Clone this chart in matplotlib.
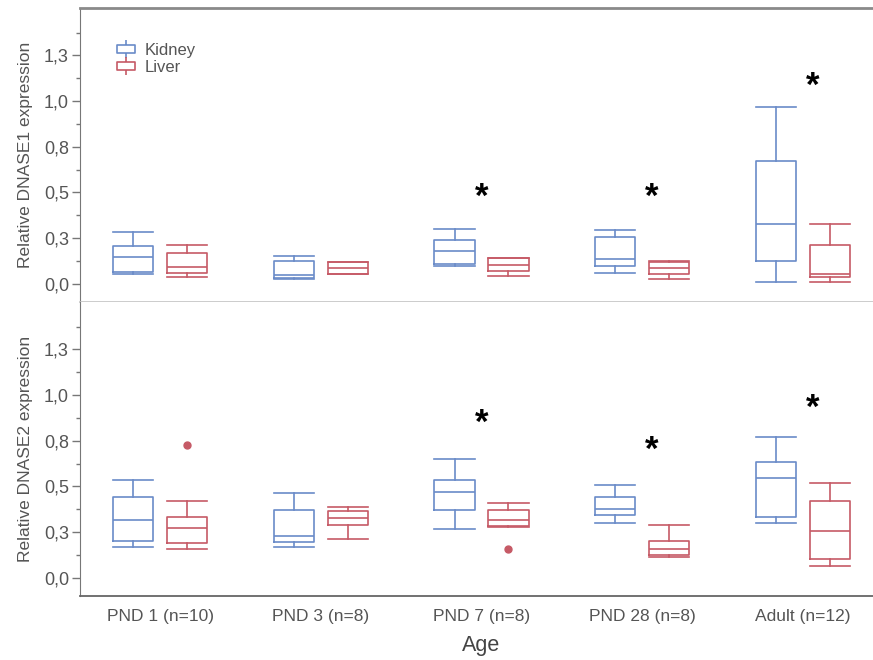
import matplotlib
matplotlib.use("Agg")
import matplotlib.pyplot as plt
from matplotlib.lines import Line2D
from matplotlib.path import Path
from matplotlib.ticker import FixedLocator, FixedFormatter
from matplotlib import transforms

plt.rcParams['font.family'] = ['Liberation Sans', 'DejaVu Sans']

groups = ["PND 1 (n=10)", "PND 3 (n=8)", "PND 7 (n=8)", "PND 28 (n=8)", "Adult (n=12)"]

# DNASE1: whislo, q1, med, q3, whishi
dnase1_kidney = [
    [0.052, 0.067, 0.144, 0.206, 0.285],
    [0.028, 0.031, 0.049, 0.123, 0.152],
    [0.099, 0.108, 0.177, 0.240, 0.301],
    [0.060, 0.096, 0.134, 0.258, 0.294],
    [0.007, 0.123, 0.325, 0.671, 0.970],
]
dnase1_liver = [
    [0.036, 0.060, 0.090, 0.169, 0.213],
    [0.052, 0.052, 0.085, 0.117, 0.120],
    [0.045, 0.072, 0.104, 0.139, 0.142],
    [0.027, 0.052, 0.085, 0.117, 0.124],
    [0.007, 0.036, 0.052, 0.213, 0.325],
]
dnase1_kidney_out = [[], [], [], [], []]
dnase1_liver_out = [[], [], [], [], []]
dnase1_star_x = [2.0, 3.06, 4.06]
dnase1_star_y = [0.505, 0.505, 1.115]

# DNASE2
dnase2_kidney = [
    [0.170, 0.203, 0.317, 0.442, 0.533],
    [0.167, 0.198, 0.229, 0.372, 0.464],
    [0.266, 0.372, 0.469, 0.537, 0.650],
    [0.299, 0.343, 0.377, 0.443, 0.508],
    [0.299, 0.335, 0.546, 0.632, 0.769],
]
dnase2_liver = [
    [0.156, 0.192, 0.271, 0.335, 0.418],
    [0.211, 0.290, 0.326, 0.368, 0.390],
    [0.280, 0.282, 0.317, 0.372, 0.409],
    [0.112, 0.125, 0.159, 0.203, 0.290],
    [0.066, 0.101, 0.257, 0.418, 0.519],
]
dnase2_kidney_out = [[], [], [], [], []]
dnase2_liver_out = [[0.725], [], [0.159], [], []]
dnase2_star_x = [2.0, 3.06, 4.06]
dnase2_star_y = [0.876, 0.729, 0.958]

yticks = [0.0, 0.25, 0.5, 0.75, 1.0, 1.25]
ytick_labels = ["0,0", "0,3", "0,5", "0,8", "1,0", "1,3"]
yminor = [0.125, 0.375, 0.625, 0.875, 1.125, 1.375]

blue = "#6a8bc8"
red = "#c65a66"
grey = "#555555"

# small boxplot icon for the legend
box_icon = Path(
    [(-1, -0.42), (1, -0.42), (1, 0.42), (-1, 0.42), (-1, -0.42),
     (0, 0.42), (0, 1.0), (0, -0.42), (0, -1.0)],
    [Path.MOVETO, Path.LINETO, Path.LINETO, Path.LINETO, Path.CLOSEPOLY,
     Path.MOVETO, Path.LINETO, Path.MOVETO, Path.LINETO])


def stats(rows, outs):
    res = []
    for r, o in zip(rows, outs):
        res.append(dict(whislo=r[0], q1=r[1], med=r[2], q3=r[3], whishi=r[4], fliers=o))
    return res


def draw(ax, kid, liv, kid_out, liv_out, star_x, star_y, ylabel):
    pos = list(range(len(groups)))
    for data, outs, col, off in [(kid, kid_out, blue, -0.168), (liv, liv_out, red, 0.168)]:
        lp = dict(color=col, linewidth=1.2)
        ax.bxp(stats(data, outs), positions=[p + off for p in pos], widths=0.25,
               showfliers=True, boxprops=lp, medianprops=lp, whiskerprops=lp,
               capprops=lp, capwidths=0.25,
               flierprops=dict(marker='o', markersize=5, markerfacecolor=red,
                               markeredgecolor=red))
    shift = transforms.offset_copy(ax.transData, fig=ax.figure, y=-6, units='dots')
    for x, y in zip(star_x, star_y):
        ax.text(x, y, "*", ha="center", va="center", fontsize=25,
                fontweight="bold", color="black", transform=shift)
    ax.set_xlim(-0.5, 4.5)
    ax.set_ylim(-0.1, 1.51)
    ax.yaxis.set_major_locator(FixedLocator(yticks))
    ax.yaxis.set_major_formatter(FixedFormatter(ytick_labels))
    ax.yaxis.set_minor_locator(FixedLocator(yminor))
    ax.tick_params(axis="y", which="major", length=6, width=1, color="#777777",
                   labelsize=13, labelcolor=grey, pad=2)
    ax.tick_params(axis="y", which="minor", length=3, width=1, color="#777777")
    ax.set_ylabel(ylabel, fontsize=12.5, color=grey, labelpad=8)
    ax.spines["right"].set_visible(False)
    ax.spines["left"].set_color("#777777")


fig = plt.figure(figsize=(8.73, 6.6), dpi=100)
ax1 = fig.add_axes([80 / 873, 1 - 302 / 660, 803 / 873, 294 / 660])
ax2 = fig.add_axes([80 / 873, 1 - 596 / 660, 803 / 873, 294 / 660])

draw(ax1, dnase1_kidney, dnase1_liver, dnase1_kidney_out, dnase1_liver_out,
     dnase1_star_x, dnase1_star_y, "Relative DNASE1 expression")
draw(ax2, dnase2_kidney, dnase2_liver, dnase2_kidney_out, dnase2_liver_out,
     dnase2_star_x, dnase2_star_y, "Relative DNASE2 expression")

ax1.set_xticks([])
ax1.spines["top"].set_color("#8a8a8a")
ax1.spines["top"].set_linewidth(2)
ax1.spines["bottom"].set_color("#c4c4c4")
ax1.spines["bottom"].set_linewidth(1.2)
ax2.spines["top"].set_visible(False)
ax2.spines["bottom"].set_color("#666666")
ax2.spines["bottom"].set_linewidth(1.3)
ax2.set_xticks(range(len(groups)))
ax2.set_xticklabels(groups)
ax2.tick_params(axis="x", length=0, labelsize=12.5, labelcolor=grey, pad=9)
ax2.set_xlabel("Age", fontsize=15.5, color="#444444", labelpad=8)

handles = [
    Line2D([], [], color=blue, marker=box_icon, markerfacecolor="none",
           linestyle="none", markersize=13, markeredgewidth=1.2),
    Line2D([], [], color=red, marker=box_icon, markerfacecolor="none",
           linestyle="none", markersize=13, markeredgewidth=1.2),
]
ax1.legend(handles, ["Kidney", "Liver"], loc="upper left", bbox_to_anchor=(0.035, 0.905),
           frameon=False, fontsize=12, labelcolor=grey, handletextpad=0.5,
           handlelength=1.3, labelspacing=0.12, borderaxespad=0)

fig.savefig("out.png", dpi=100)
